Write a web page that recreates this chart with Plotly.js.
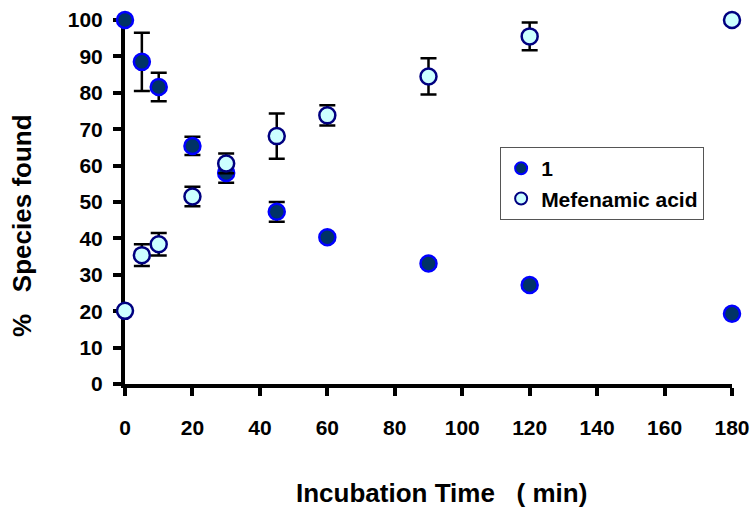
<!DOCTYPE html>
<html>
<head>
<meta charset="utf-8">
<script src="https://cdn.plot.ly/plotly-3.0.1.min.js"></script>
<style>html,body{margin:0;padding:0;background:#fff;}#chart{width:755px;height:507px;}</style>
</head>
<body>
<div id="chart"></div>
<script>
const times = [0, 5, 10, 20, 30, 45, 60, 90, 120, 180];
const compound1 = [100, 88.5, 81.6, 65.4, 58.0, 47.3, 40.3, 33.1, 27.2, 19.3];
const compound1Err = [0, 8, 3.9, 2.5, 2.7, 2.7, 0.8, 0.8, 0.8, 0];
const mefenamic = [20.1, 35.4, 38.4, 51.5, 60.6, 68.1, 73.8, 84.5, 95.5, 100];
const mefenamicErr = [0, 3, 3.1, 2.7, 2.7, 6.2, 2.8, 5, 3.8, 0];
const xTicks = [0, 20, 40, 60, 80, 100, 120, 140, 160, 180];
const yTicks = [0, 10, 20, 30, 40, 50, 60, 70, 80, 90, 100];

const F = 'Liberation Sans, Arial, sans-serif';
const errStyle = {type: 'data', visible: true, color: '#000', thickness: 2.5, width: 8};

const traces = [
  {
    x: times, y: compound1, name: '1', type: 'scatter', mode: 'markers', cliponaxis: false,
    error_y: Object.assign({array: compound1Err}, errStyle),
    marker: {size: 16, color: '#003366', line: {color: '#0000FF', width: 2.5}}
  },
  {
    x: times, y: mefenamic, name: 'Mefenamic acid', type: 'scatter', mode: 'markers', cliponaxis: false,
    error_y: Object.assign({array: mefenamicErr}, errStyle),
    marker: {size: 16, color: '#CCFFFF', line: {color: '#000080', width: 2.5}}
  }
];

const axisCommon = {
  showgrid: false, zeroline: false, showline: true, linecolor: '#000', linewidth: 4,
  ticks: 'outside', ticklen: 8, tickwidth: 4, tickcolor: '#000', layer: 'below traces',
  tickfont: {family: F, size: 21, color: '#000', weight: 'bold'}
};

const layout = {
  width: 755, height: 507,
  margin: {l: 125, r: 23, t: 20, b: 123},
  paper_bgcolor: '#fff', plot_bgcolor: '#fff',
  showlegend: true,
  legend: {
    x: 0.618, y: 0.651, xanchor: 'left', yanchor: 'top',
    bgcolor: '#fff', bordercolor: '#555', borderwidth: 1,
    font: {family: F, size: 21, color: '#000', weight: 'bold'},
    itemsizing: 'constant'
  },
  xaxis: Object.assign({}, axisCommon, {
    range: [0, 180], tickmode: 'array', tickvals: xTicks, ticktext: xTicks.map(String),
    ticklabelstandoff: 14
  }),
  yaxis: Object.assign({}, axisCommon, {
    range: [0, 100], tickmode: 'array', tickvals: yTicks, ticktext: yTicks.map(String),
    ticklabelstandoff: 6
  }),
  annotations: [
    {
      text: '%\u00a0\u00a0\u00a0Species found', xref: 'paper', yref: 'paper',
      x: -0.1697, y: 0.437, xanchor: 'center', yanchor: 'middle', showarrow: false, textangle: -90,
      font: {family: F, size: 26, color: '#000', weight: 'bold'}
    },
    {
      text: 'Incubation Time\u00a0\u00a0\u00a0( min)', xref: 'paper', yref: 'paper',
      x: 0.522, y: -0.2995, xanchor: 'center', yanchor: 'middle', showarrow: false,
      font: {family: F, size: 26, color: '#000', weight: 'bold'}
    }
  ]
};

Plotly.newPlot('chart', traces, layout, {displayModeBar: false, staticPlot: true});
</script>
</body>
</html>
